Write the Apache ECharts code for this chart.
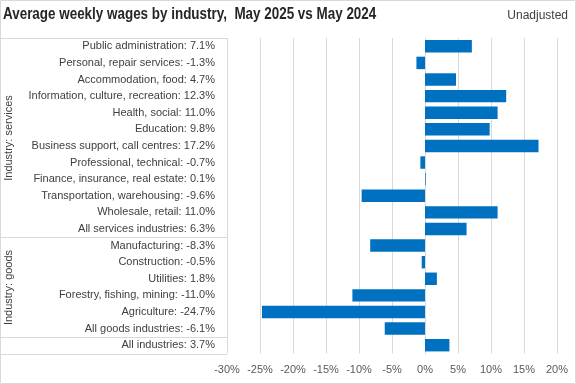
<!DOCTYPE html>
<html><head><meta charset="utf-8">
<script src="https://cdn.jsdelivr.net/npm/echarts@6/dist/echarts.min.js"></script>
<style>html,body{margin:0;padding:0;background:#fff}#c{width:576px;height:384px}</style>
</head><body><div id="c"></div>
<script>
const titleText = 'Average weekly wages by industry,  May 2025 vs May 2024';
const subText = 'Unadjusted';
const categories = [
  'Public administration', 'Personal, repair services', 'Accommodation, food',
  'Information, culture, recreation', 'Health, social', 'Education',
  'Business support, call centres', 'Professional, technical',
  'Finance, insurance, real estate', 'Transportation, warehousing',
  'Wholesale, retail', 'All services industries',
  'Manufacturing', 'Construction', 'Utilities', 'Forestry, fishing, mining',
  'Agriculture', 'All goods industries', 'All industries'
];
const values = [7.1, -1.3, 4.7, 12.3, 11.0, 9.8, 17.2, -0.7, 0.1, -9.6, 11.0, 6.3,
  -8.3, -0.5, 1.8, -11.0, -24.7, -6.1, 3.7];
const groupNames = ['Industry: services', 'Industry: goods', ''];
const groupSizes = [12, 6, 1];
const xMin = -30, xMax = 20, xStep = 5;

const FONT = '"Liberation Sans", Arial, sans-serif';
const LINE = '#d9d9d9';
const labels = categories.map((c, i) => c + ': ' + values[i].toFixed(1) + '%');

const chart = echarts.init(document.getElementById('c'), null, {renderer: 'canvas'});
chart.setOption({
  animation: false,
  backgroundColor: '#fff',
  textStyle: {fontFamily: FONT},
  title: [
    {text: subText, right: 3, top: 5, textStyle: {fontFamily: FONT, fontWeight: 'normal', fontSize: 12, color: '#404040'}}
  ],
  grid: {left: 227, right: 19, top: 38, bottom: 30.5, containLabel: false},
  xAxis: {
    type: 'value', min: xMin, max: xMax, interval: xStep,
    axisLine: {show: false}, axisTick: {show: false},
    splitLine: {lineStyle: {color: LINE, width: 1}},
    axisLabel: {formatter: '{value}%', color: '#595959', fontSize: 11, margin: 11, fontFamily: FONT}
  },
  yAxis: {
    type: 'category', inverse: true, data: labels,
    axisLine: {show: true, lineStyle: {color: LINE}}, axisTick: {show: false},
    axisLabel: {color: '#404040', fontSize: 11, margin: 12, fontFamily: FONT}
  },
  series: [{
    type: 'bar', data: values, barCategoryGap: '25%',
    itemStyle: {color: '#0070C0'}
  }]
});

function drawTable() {
  const c0 = chart.convertToPixel({yAxisIndex: 0}, 0);
  const c1 = chart.convertToPixel({yAxisIndex: 0}, 1);
  const band = c1 - c0;
  const xRight = chart.convertToPixel({xAxisIndex: 0}, xMin);
  const g = [];
  g.push({type: 'rect', shape: {x: 0.5, y: 0.5, width: 575, height: 383}, style: {fill: null, stroke: LINE, lineWidth: 1}, silent: true});
  g.push({type: 'text', x: 3, y: 14.5, scaleX: 0.79,
    style: {text: titleText, fill: '#262626', font: 'bold 17px ' + FONT, align: 'left', verticalAlign: 'middle'}});
  let start = 0;
  const yb = i => Math.round(c0 + (i - 0.5) * band) + 0.5;
  g.push({type: 'line', shape: {x1: 0, y1: yb(0), x2: xRight, y2: yb(0)}, style: {stroke: LINE, lineWidth: 1}});
  groupSizes.forEach((n, gi) => {
    const end = start + n;
    const y1 = yb(start), y2 = yb(end);
    g.push({type: 'line', shape: {x1: 0, y1: y2, x2: xRight, y2: y2}, style: {stroke: LINE, lineWidth: 1}});
    if (groupNames[gi]) {
      g.push({type: 'text', x: 8.5, y: (y1 + y2) / 2, rotation: Math.PI / 2,
        style: {text: groupNames[gi], fill: '#404040', font: '11px ' + FONT, align: 'center', verticalAlign: 'middle'}});
    }
    start = end;
  });
  chart.setOption({graphic: g});
}
drawTable();
</script>
</body></html>
